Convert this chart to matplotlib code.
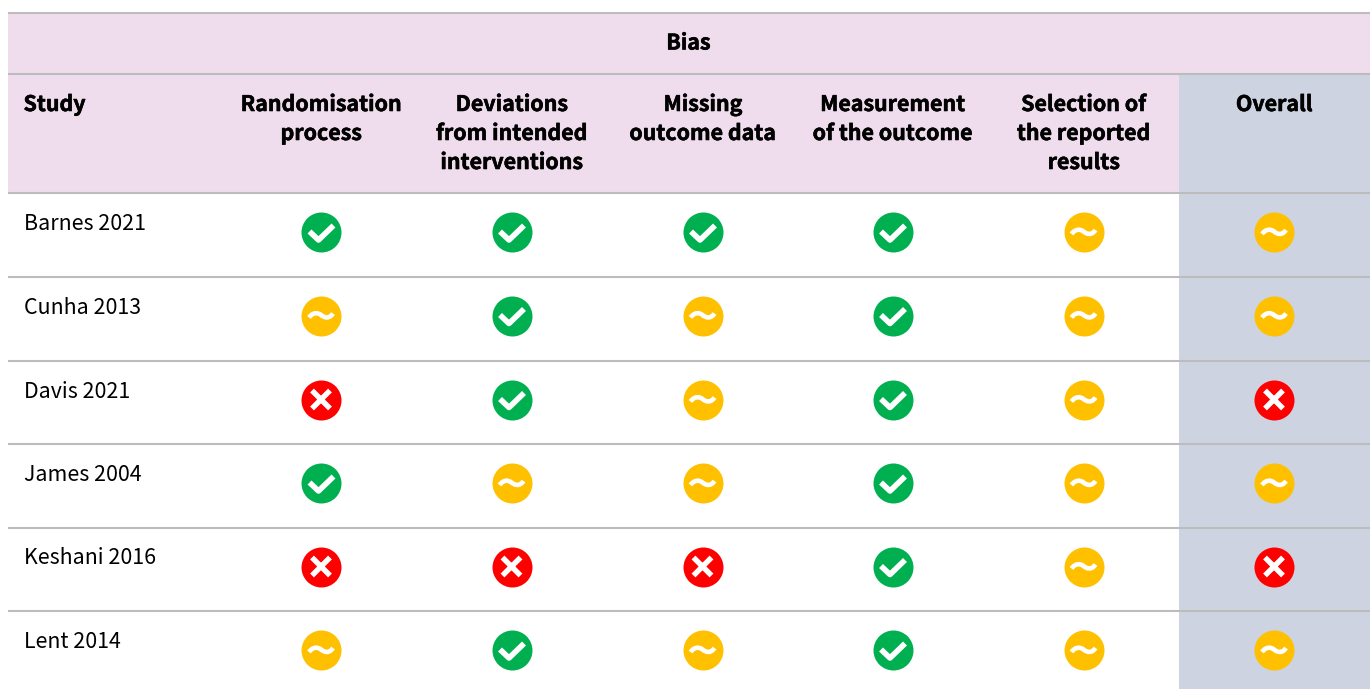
import matplotlib
matplotlib.use("Agg")
import matplotlib.pyplot as plt
import matplotlib.patheffects as pe
from matplotlib.path import Path
from matplotlib.patches import Rectangle

plt.rcParams['font.family'] = ['Noto Sans CJK SC', 'DejaVu Sans']

title = "Bias"
study_header = "Study"
domains = ["Randomisation\nprocess", "Deviations\nfrom intended\ninterventions",
           "Missing\noutcome data", "Measurement\nof the outcome",
           "Selection of\nthe reported\nresults", "Overall"]
studies = ["Barnes 2021", "Cunha 2013", "Davis 2021", "James 2004", "Keshani 2016", "Lent 2014"]
randomisation = ["low", "some", "high", "low", "high", "some"]
deviations = ["low", "low", "low", "some", "high", "low"]
missing = ["low", "some", "some", "some", "high", "some"]
measurement = ["low", "low", "low", "low", "low", "low"]
selection = ["some", "some", "some", "some", "some", "some"]
overall = ["some", "some", "high", "some", "high", "some"]
ratings = [randomisation, deviations, missing, measurement, selection, overall]

col_x = [321.5, 512, 703, 893, 1084, 1274.5]
row_y = [232.5, 316, 400, 483.5, 567, 650.5]
rules_y = [13, 74, 193, 277, 361, 444, 528, 611]

PINK = "#efdded"
BLUE = "#cdd3e0"
RULE = "#bcbcbc"
COLORS = {"low": "#00b050", "some": "#ffc000", "high": "#ff0000"}

CHECK = Path([(-11.5, 0.5), (-2.5, -8), (12.5, 6.5)], [Path.MOVETO, Path.LINETO, Path.LINETO])
TILDE = Path([(-12, -2), (-8, 3.5), (-3, 3), (0, 0.5), (3, -2), (8, -4), (12, 2)],
             [Path.MOVETO] + [Path.CURVE4] * 6)
CROSS = Path([(-9, -9), (9, 9), (-9, 9), (9, -9)],
             [Path.MOVETO, Path.LINETO, Path.MOVETO, Path.LINETO])
GLYPHS = {"low": (CHECK, 5.6), "some": (TILDE, 4.6), "high": (CROSS, 5.4)}


def size_for(path):
    m = abs(path.vertices).max()
    return (2 * m * 0.72) ** 2


fig = plt.figure(figsize=(13.72, 6.89), dpi=100, facecolor="white")
ax = fig.add_axes([0, 0, 1, 1])
ax.set_xlim(0, 1372)
ax.set_ylim(689, 0)
ax.axis("off")

ax.add_patch(Rectangle((8, 13), 1362, 180, fc=PINK, ec="none", zorder=1))
ax.add_patch(Rectangle((1179, 75), 191, 614, fc=BLUE, ec="none", zorder=1))
for y in rules_y:
    ax.plot([8, 1370], [y, y], color=RULE, lw=1.5, solid_capstyle="butt", zorder=2)

HEAVY = [pe.withStroke(linewidth=0.4, foreground="black")]
BOLD = dict(fontsize=15.4, fontweight="bold", color="black", zorder=3, va="baseline",
            path_effects=HEAVY)
ax.text(688.5, 49.5, title, ha="center", **BOLD)
ax.text(23.5, 111, study_header, ha="left", **BOLD)
for x, label in zip(col_x, domains):
    for i, line in enumerate(label.split("\n")):
        ax.text(x, 111 + 29 * i, line, ha="center", **BOLD)
for y, name in zip(row_y, studies):
    ax.text(23.5, y - 2.5, name, ha="left", va="baseline", fontsize=15.4, color="black", zorder=3)

for x, col in zip(col_x, ratings):
    for y, r in zip(row_y, col):
        ax.scatter([x - 0.5], [y - 0.5], s=(40 * 0.72) ** 2, c=COLORS[r], linewidths=0, zorder=4)
        path, w = GLYPHS[r]
        ax.scatter([x - 0.5], [y - 0.5], s=size_for(path), marker=path, facecolors="none",
                   edgecolors="white", linewidths=w * 0.72, zorder=5)

fig.savefig("out.png", dpi=100, facecolor="white")
